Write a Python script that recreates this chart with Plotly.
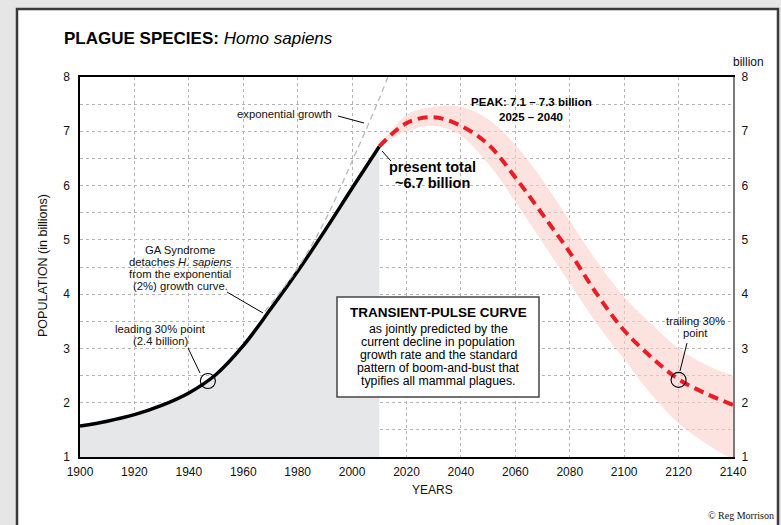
import plotly.graph_objects as go

# ---------------- data ----------------
hist_years = [1900, 1910, 1920, 1930, 1940, 1950, 1960, 1970, 1980, 1990, 2000, 2010]
hist_pop = [1.57, 1.66, 1.78, 1.95, 2.18, 2.52, 3.05, 3.72, 4.42, 5.17, 5.95, 6.72]

exp_years = [1968, 1980, 1990, 2000, 2010, 2015]
exp_pop = [3.68, 4.48, 5.35, 6.45, 7.60, 8.25]

proj_years = [2010, 2020, 2030, 2040, 2050, 2060, 2070, 2080, 2090, 2100, 2110, 2120, 2130, 2140]
proj_pop = [6.72, 7.15, 7.26, 7.10, 6.76, 6.15, 5.47, 4.77, 4.00, 3.33, 2.84, 2.43, 2.17, 1.96]

band_years = [2010, 2020, 2030, 2040, 2050, 2060, 2070, 2080, 2090, 2100, 2110, 2120, 2130, 2140]
band_upper = [6.72, 7.30, 7.45, 7.45, 7.22, 6.75, 6.10, 5.35, 4.60, 3.95, 3.45, 3.00, 2.70, 2.50]
band_lower = [6.72, 7.00, 7.10, 6.92, 6.40, 5.70, 4.95, 4.20, 3.45, 2.80, 2.15, 1.62, 1.25, 0.95]

point_years = [1947, 2120]
point_pop = [2.40, 2.42]

x_ticks = list(range(1900, 2141, 20))
y_ticks = list(range(1, 9))

# ---------------- layout helpers ----------------
W, H = 781, 525
L, R, T, B = 80, 733, 77, 457


def px(x):
    return (x - L) / (R - L)


def py(y):
    return (B - y) / (B - T)


FONT = "Liberation Sans, Arial, sans-serif"
RED = "#ec1c24"

fig = go.Figure()

# band
fig.add_trace(go.Scatter(x=band_years, y=band_lower, mode="lines", line=dict(width=0, shape="spline"),
                         hoverinfo="skip", showlegend=False))
fig.add_trace(go.Scatter(x=band_years, y=band_upper, mode="lines", line=dict(width=0, shape="spline"),
                         fill="tonexty", fillcolor="rgba(251,208,203,0.6)", hoverinfo="skip", showlegend=False))

# historical fill + curve
fig.add_trace(go.Scatter(x=hist_years, y=hist_pop, mode="lines", fill="tozeroy", fillcolor="#e6e7e9",
                         line=dict(color="black", width=3.5, shape="spline"), showlegend=False))

# exponential
fig.add_trace(go.Scatter(x=exp_years, y=exp_pop, mode="lines",
                         line=dict(color="#b8b8b8", width=1.3, dash="6px,4px", shape="spline"), showlegend=False))

# projection
fig.add_trace(go.Scatter(x=proj_years, y=proj_pop, mode="lines",
                         line=dict(color=RED, width=4, dash="10px,6px", shape="spline"), showlegend=False))

# 30% points
fig.add_trace(go.Scatter(x=point_years, y=point_pop, mode="markers",
                         marker=dict(symbol="circle-open", size=15, color="black", line=dict(width=1.1)),
                         showlegend=False))

# dummy for right axis
fig.add_trace(go.Scatter(x=[1900], y=[1], yaxis="y2", mode="markers", marker=dict(opacity=0),
                         hoverinfo="skip", showlegend=False))

shapes = []
# white panel
shapes.append(dict(type="rect", xref="paper", yref="paper", x0=px(17), x1=px(778), y0=py(540), y1=py(9),
                   fillcolor="white", line=dict(color="#3a3a3a", width=2.5), layer="below"))
# text box
shapes.append(dict(type="rect", xref="paper", yref="paper", x0=px(337), x1=px(539), y0=py(397), y1=py(297),
                   fillcolor="white", line=dict(color="#444444", width=1.5), layer="above"))
# leader lines
for (x0, y0, x1, y1) in [(338, 116, 364, 123), (382, 151, 391, 161), (227, 292, 263, 313),
                         (188, 348, 200, 373), (687, 343, 680, 371)]:
    shapes.append(dict(type="line", xref="paper", yref="paper", x0=px(x0), y0=py(y0), x1=px(x1), y1=py(y1),
                       line=dict(color="black", width=1)))

ann = []


def text(t, x, y, size=11.3, xanchor="center", color="#111111", family=FONT, angle=0):
    ann.append(dict(text=t, xref="paper", yref="paper", x=px(x), y=py(y), xanchor=xanchor, yanchor="middle",
                    showarrow=False, textangle=angle, font=dict(size=size, color=color, family=family)))


text("<b>PLAGUE SPECIES:</b> <i>Homo sapiens</i>", 62, 38, size=17, xanchor="left", color="black")
text("billion", 748, 62, size=12)
text("POPULATION (in billions)", 43, 266, size=12.5, angle=-90)
text("YEARS", 432, 490, size=12)
text("© Reg Morrison", 776, 515, size=10, xanchor="right", family="Liberation Serif, Times New Roman, serif")

text("exponential growth", 284, 114)
text("<b>present total</b>", 432, 167, size=14.5, color="black")
text("<b>~6.7 billion</b>", 432, 183, size=14.5, color="black")
text("<b>PEAK: 7.1 – 7.3 billion</b>", 531, 102, size=11.5, color="black")
text("<b>2025 – 2040</b>", 531, 117, size=11.5, color="black")

for i, t in enumerate(["GA Syndrome", "detaches <i>H. sapiens</i>", "from the exponential", "(2%) growth curve."]):
    text(t, 180, 250 + i * 12, size=11.3)
for i, t in enumerate(["leading 30% point", "(2.4 billion)"]):
    text(t, 160, 329 + i * 12, size=11.3)
for i, t in enumerate(["trailing 30%", "point"]):
    text(t, 695, 321 + i * 12, size=11.3)

text("<b>TRANSIENT-PULSE CURVE</b>", 438, 312, size=13.5, color="black")
for i, t in enumerate(["as jointly predicted by the", "current decline in population",
                       "growth rate and the standard", "pattern of boom-and-bust that",
                       "typifies all mammal plagues."]):
    text(t, 438, 329 + i * 13, size=12.3, color="black")

fig.update_layout(
    width=W, height=H,
    margin=dict(l=L, r=W - R, t=T, b=H - B),
    paper_bgcolor="#e6e6e6",
    plot_bgcolor="rgba(0,0,0,0)",
    font=dict(family=FONT, size=12, color="#111111"),
    shapes=shapes,
    annotations=ann,
    xaxis=dict(range=[1900, 2140], tickvals=x_ticks, ticktext=[str(v) for v in x_ticks],
               showgrid=True, gridcolor="#b4b4b4", griddash="dot", gridwidth=1,
               showline=True, linecolor="black", linewidth=1.5, mirror=True,
               ticks="", ticklabelstandoff=3, zeroline=False, tickfont=dict(size=12)),
    yaxis=dict(range=[1, 8], tickvals=y_ticks, showgrid=True, gridcolor="#b4b4b4", griddash="dot",
               minor=dict(dtick=0.5, showgrid=True, gridcolor="#b4b4b4", griddash="dot"),
               showline=True, linecolor="black", linewidth=1.5, ticks="", ticklabelstandoff=6,
               zeroline=False, tickfont=dict(size=12)),
    yaxis2=dict(range=[1, 8], tickvals=y_ticks, overlaying="y", side="right", showgrid=False,
                showline=True, linecolor="#7a7a7a", linewidth=2, ticks="", ticklabelstandoff=4,
                zeroline=False, tickfont=dict(size=12)),
)

fig.write_html("out.html", config={"displayModeBar": False},
               post_script="document.body.style.margin='0px';")
